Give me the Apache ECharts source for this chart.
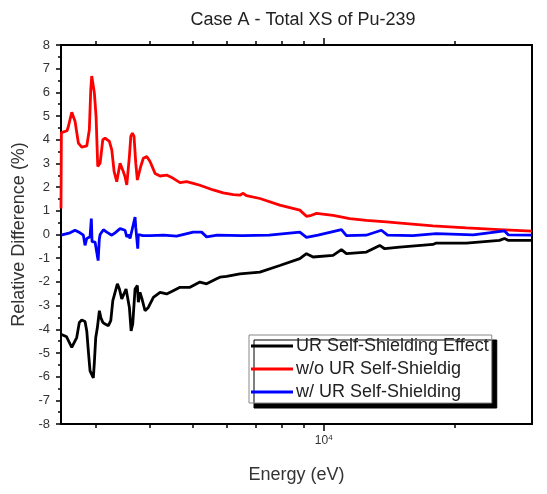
<!DOCTYPE html>
<html>
<head>
<meta charset="utf-8">
<script src="https://cdn.jsdelivr.net/npm/echarts@6/dist/echarts.min.js"></script>
<style>html,body{margin:0;padding:0;background:#fff;}#c{width:547px;height:494px;}</style>
</head>
<body>
<div id="c"></div>
<script>
// Energies (eV) and relative differences (%)
const effectE = [2500,2575,2646,2668,2716,2754,2789,2838,2864,2888,2914,2940,2965,2981,3003,3029,3061,3084,3117,3155,3210,3251,3286,3325,3366,3402,3445,3474,3524,3555,3586,3619,3650,3695,3740,3760,3793,3830,3895,3963,4070,4216,4365,4519,4683,4937,5113,5203,5390,5681,5781,5988,6424,7138,7930,8813,9128,9452,10503,10977,11270,12524,13433,13790,14927,17785,18107,21214,25271,25950,26500,30000];
const effectV = [-4.21,-4.32,-4.77,-4.84,-4.35,-3.71,-3.61,-3.67,-4.07,-4.92,-5.76,-5.84,-6.05,-5.41,-4.35,-3.93,-3.22,-3.5,-3.71,-3.78,-3.85,-3.64,-2.79,-2.44,-2.08,-2.3,-2.72,-2.72,-2.3,-2.37,-3.08,-4.07,-3.78,-2.3,-2.16,-2.86,-2.44,-2.7,-3.22,-3.08,-2.65,-2.44,-2.51,-2.37,-2.23,-2.23,-2.08,-2.01,-2.08,-1.87,-1.8,-1.77,-1.66,-1.59,-1.31,-1.02,-0.81,-0.95,-0.88,-0.64,-0.81,-0.74,-0.46,-0.6,-0.53,-0.42,-0.36,-0.36,-0.25,-0.17,-0.25,-0.25];

const woE = [2500,2505,2581,2599,2646,2692,2740,2789,2864,2903,2925,2940,2965,2981,3008,3035,3073,3117,3155,3227,3268,3309,3355,3385,3414,3445,3474,3505,3537,3567,3586,3613,3643,3675,3709,3740,3775,3807,3860,3930,3999,4106,4216,4365,4519,4683,4851,5022,5203,5580,5883,6201,6424,6536,6650,7138,7930,8813,9128,9373,9623,10503,11468,12524,13914,15463,17785,21214,25271,30000];
const woV = [1.1,4.3,4.38,4.56,5.16,4.78,3.86,3.69,3.74,4.42,6.12,6.69,6.69,5.98,4.99,2.87,3.01,4.0,4.07,3.93,3.57,2.65,2.23,2.23,3.01,3.07,2.65,2.44,2.09,2.09,3.29,4.14,4.28,4.14,3.01,2.3,2.3,2.87,3.22,3.29,3.08,2.58,2.47,2.51,2.37,2.19,2.23,2.16,2.08,1.88,1.76,1.68,1.66,1.74,1.64,1.52,1.24,1.03,0.77,0.81,0.89,0.81,0.67,0.6,0.53,0.46,0.36,0.28,0.21,0.14];

const wE = [2500,2622,2692,2764,2813,2838,2864,2888,2914,2934,2945,2992,3041,3060,3073,3127,3183,3268,3325,3414,3505,3537,3567,3599,3695,3709,3748,3760,3850,4000,4300,4600,5022,5250,5390,5700,6500,7500,8813,9128,9700,10977,11270,12500,13552,14000,16000,18107,22000,25950,26500,30000];
const wV = [-0.03,0.07,0.18,0.07,-0.03,-0.46,-0.17,-0.25,-0.1,0.67,-0.3,-0.32,-1.1,-0.2,0.0,0.2,0.1,-0.03,0.07,0.25,0.18,-0.1,0.0,-0.17,0.74,0.3,-0.6,0.0,-0.05,-0.05,-0.03,-0.07,0.1,0.1,-0.1,-0.03,-0.05,-0.03,0.1,-0.12,-0.03,0.21,-0.05,-0.03,0.18,-0.03,-0.05,0.04,-0.02,0.15,-0.02,-0.03];

const minorTickE = [3000,4000,5000,6000,7000,8000,9000,20000];
const majorTickE = [10000];
const xMinE = 2500, xMaxE = 30000;
const yTicks = {min: -8, max: 8, interval: 1};

const lg = Math.log10;
const pts = (E, V) => E.map((e, i) => [lg(e), V[i]]);
const minorVals = minorTickE.map(lg);
const majorVals = majorTickE.map(lg);
const FONT = '"Liberation Sans", Arial, sans-serif';

function xAx(pos, vals, len, label) {
  return {
    type: 'value', position: pos, min: lg(xMinE), max: lg(xMaxE),
    axisLine: {show: true, onZero: false, lineStyle: {color: '#000', width: 2}},
    axisTick: {show: true, inside: false, length: len, customValues: vals, lineStyle: {color: '#000', width: 1.5}},
    axisLabel: label ? {
      show: true, customValues: vals, margin: 10, fontFamily: FONT,
      formatter: () => '{b|10}{s|4}',
      rich: {b: {fontSize: 12, color: '#333', fontFamily: FONT}, s: {fontSize: 8, color: '#333', fontFamily: FONT, verticalAlign: 'top', padding: [0,0,6,0]}}
    } : {show: false},
    splitLine: {show: false}, minorTick: {show: false}
  };
}

const chart = echarts.init(document.getElementById('c'), null, {renderer: 'canvas'});
const xAxes = [xAx('bottom', minorVals, 4, false), xAx('bottom', majorVals, 7, true), xAx('top', minorVals, 4, false), xAx('top', majorVals, 7, false)];
xAxes[0].name = 'Energy (eV)';
xAxes[0].nameLocation = 'middle';
xAxes[0].nameGap = 42;
xAxes[0].nameTextStyle = {fontSize: 18, color: '#333', fontFamily: FONT};

chart.setOption({
  animation: false,
  backgroundColor: '#fff',
  title: {text: 'Case A - Total XS of Pu-239', left: 298, textAlign: 'center', top: 6,
    textStyle: {fontSize: 18, fontWeight: 'normal', color: '#222', fontFamily: FONT}},
  grid: {left: 61, right: 15, top: 45, bottom: 70, containLabel: false},
  legend: {
    orient: 'vertical', left: 249, top: 335,
    data: ['UR Self-Shielding Effect', 'w/o UR Self-Shieldig', 'w/ UR Self-Shielding'],
    icon: 'rect', itemWidth: 42, itemHeight: 3, itemGap: 5,
    padding: [2, 3, 2, 2],
    backgroundColor: '#fff', borderColor: '#888', borderWidth: 1,
    shadowColor: '#000', shadowBlur: 0, shadowOffsetX: 5, shadowOffsetY: 5,
    textStyle: {fontSize: 18, color: '#222', fontFamily: FONT, padding: [0,0,0,-2]}
  },
  xAxis: xAxes,
  yAxis: [{
    type: 'value', position: 'left', min: yTicks.min, max: yTicks.max, interval: yTicks.interval,
    name: 'Relative Difference (%)', nameLocation: 'middle', nameGap: 33,
    nameTextStyle: {fontSize: 18, color: '#333', fontFamily: FONT},
    axisLine: {show: true, onZero: false, lineStyle: {color: '#000', width: 2}},
    axisTick: {show: true, inside: false, length: 5, lineStyle: {color: '#000', width: 1.5}},
    minorTick: {show: true, splitNumber: 2, length: 3, lineStyle: {color: '#000', width: 1.5}},
    axisLabel: {fontSize: 13, color: '#333', margin: 11, fontFamily: FONT},
    splitLine: {show: false}
  }, {
    type: 'value', position: 'right', min: yTicks.min, max: yTicks.max, interval: yTicks.interval,
    axisLine: {show: true, onZero: false, lineStyle: {color: '#000', width: 2}},
    axisTick: {show: false}, axisLabel: {show: false}, splitLine: {show: false}
  }],
  series: [
    {name: 'UR Self-Shielding Effect', type: 'line', data: pts(effectE, effectV), symbol: 'none', color: '#000',
     lineStyle: {width: 2.8, color: '#000'}, z: 3},
    {name: 'w/o UR Self-Shieldig', type: 'line', data: pts(woE, woV), symbol: 'none', color: '#f00',
     lineStyle: {width: 2.8, color: '#f00'}, z: 3},
    {name: 'w/ UR Self-Shielding', type: 'line', data: pts(wE, wV), symbol: 'none', color: '#00f',
     lineStyle: {width: 2.8, color: '#00f'}, z: 4}
  ]
});
</script>
</body>
</html>
